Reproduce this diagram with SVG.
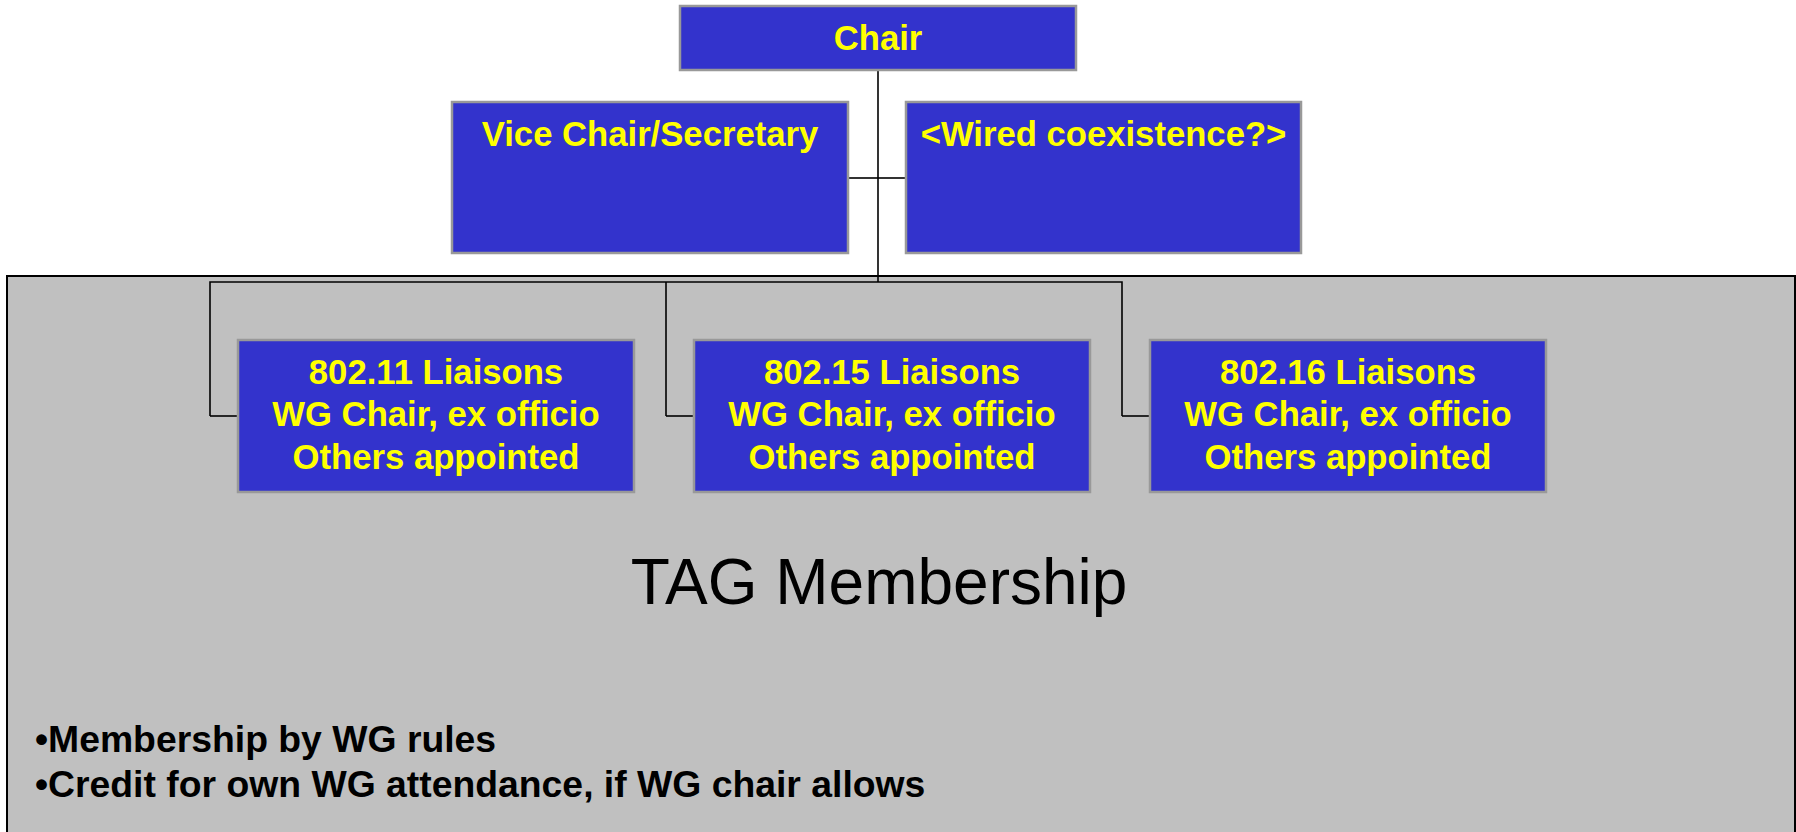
<svg xmlns="http://www.w3.org/2000/svg" width="1796" height="832" viewBox="0 0 1796 832">
  <style>
    .box { fill: #3333CC; stroke: #999999; stroke-width: 2.5; }
    .lbl { font-family: "Liberation Sans", Arial, sans-serif; font-weight: bold; font-size: 34.67px; fill: #FFFF00; text-anchor: middle; }
    .conn { stroke: #000000; fill: none; stroke-width: 1.6; }
    .bullet { font-family: "Liberation Sans", Arial, sans-serif; font-weight: bold; font-size: 37.33px; fill: #000000; }
  </style>
  <rect width="1796" height="832" fill="#FFFFFF"/>
  <g id="tag-membership">
    <rect x="7" y="276" width="1788" height="600" fill="#C0C0C0" stroke="#000000" stroke-width="2"/>
    <text x="879" y="604" font-family="'Liberation Sans', Arial, sans-serif" font-size="64px" fill="#000000" text-anchor="middle">TAG Membership</text>
    <text class="bullet" x="35" y="752">•Membership by WG rules</text>
    <text class="bullet" x="35" y="797">•Credit for own WG attendance, if WG chair allows</text>
  </g>
  <g id="connectors">
    <line class="conn" x1="878" y1="70" x2="878" y2="282" stroke-width="2"/>
    <line class="conn" x1="848" y1="178" x2="878" y2="178" stroke-width="2"/>
    <line class="conn" x1="878" y1="178" x2="906" y2="178" stroke-width="1.3"/>
    <polyline class="conn" points="210,416 210,282 1122,282 1122,416"/>
    <line class="conn" x1="666" y1="282" x2="666" y2="416"/>
    <line class="conn" x1="210" y1="416" x2="238" y2="416"/>
    <line class="conn" x1="666" y1="416" x2="694" y2="416"/>
    <line class="conn" x1="1122" y1="416" x2="1150" y2="416"/>
  </g>
  <g id="chair">
    <rect class="box" x="680" y="6" width="396" height="64"/>
    <text class="lbl" x="878" y="50">Chair</text>
  </g>
  <g id="vice-chair">
    <rect class="box" x="452" y="102" width="396" height="151"/>
    <text class="lbl" x="650" y="146">Vice Chair/Secretary</text>
  </g>
  <g id="wired">
    <rect class="box" x="906" y="102" width="395" height="151"/>
    <text class="lbl" x="1103.5" y="146">&lt;Wired coexistence?&gt;</text>
  </g>
  <g id="liaison-80211">
    <rect class="box" x="238" y="340" width="396" height="152"/>
    <text class="lbl" x="436" y="384">802.11 Liaisons</text>
    <text class="lbl" x="436" y="426">WG Chair, ex officio</text>
    <text class="lbl" x="436" y="469">Others appointed</text>
  </g>
  <g id="liaison-80215">
    <rect class="box" x="694" y="340" width="396" height="152"/>
    <text class="lbl" x="892" y="384">802.15 Liaisons</text>
    <text class="lbl" x="892" y="426">WG Chair, ex officio</text>
    <text class="lbl" x="892" y="469">Others appointed</text>
  </g>
  <g id="liaison-80216">
    <rect class="box" x="1150" y="340" width="396" height="152"/>
    <text class="lbl" x="1348" y="384">802.16 Liaisons</text>
    <text class="lbl" x="1348" y="426">WG Chair, ex officio</text>
    <text class="lbl" x="1348" y="469">Others appointed</text>
  </g>
</svg>
